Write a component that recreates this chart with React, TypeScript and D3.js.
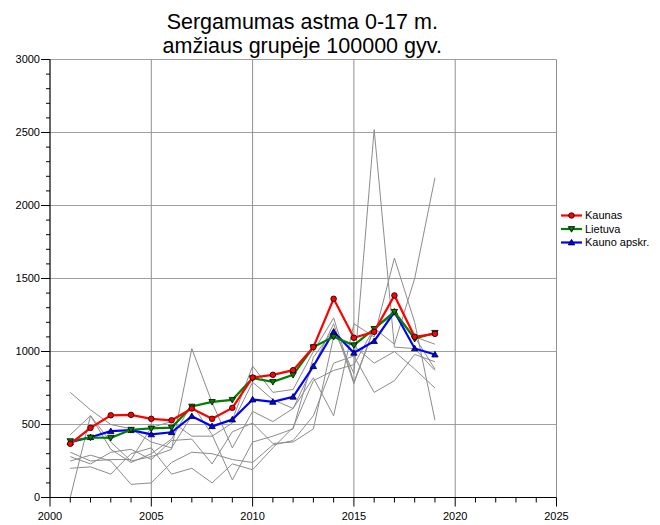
import React from "react";
import * as d3 from "d3";

const years = d3.range(2001, 2020);
const kaunas = [368, 477, 563, 566, 539, 529, 610, 539, 614, 822, 840, 872, 1030, 1361, 1094, 1135, 1384, 1101, 1121];
const lietuva = [386, 411, 409, 464, 473, 479, 623, 655, 669, 817, 792, 840, 1030, 1101, 1043, 1155, 1272, 1087, 1128];
const kaunoApskr = [379, 413, 454, 461, 432, 447, 557, 488, 534, 671, 655, 690, 899, 1135, 991, 1071, 1272, 1021, 979];

const gray1 = [720, 600, 500, 470, 380, 340, 560, 480, 530, 900, 720, 740, 1000, 1230, 790, 1160, 1280, 1100, 1050];
const gray2 = [0, 560, 380, 250, 280, 330, 1020, 650, 340, 590, 520, 610, 820, 560, 1190, 1100, 1640, 1200, 530];
const gray3 = [430, 560, 330, 240, 300, 400, 640, 430, 120, 380, 420, 470, 960, 1150, 850, 2520, 1030, 1020, 870];
const gray4 = [280, 230, 310, 330, 260, 390, 400, 230, 450, 510, 370, 380, 470, 1100, 1040, 920, 1000, 880, 750];
const gray5 = [250, 290, 250, 90, 100, 240, 310, 300, 260, 240, 360, 390, 560, 920, 970, 720, 800, 980, 930];
const gray6 = [200, 210, 160, 300, 340, 160, 200, 100, 230, 190, 340, 480, 800, 870, 910, 1160, 1050, 1500, 2190];
const gray7 = [310, 250, 260, 260, 480, 520, 420, 420, 510, 790, 670, 610, 900, 1190, 780, 1160, 1250, 1100, 880];
const grays = [gray1, gray2, gray3, gray4, gray5, gray6, gray7];

const xTicks = [2000, 2005, 2010, 2015, 2020, 2025];
const yTicks = [0, 500, 1000, 1500, 2000, 2500, 3000];
const titleLines = ["Sergamumas astma 0-17 m.", "amžiaus grupėje 100000 gyv."];
const seriesNames = ["Kaunas", "Lietuva", "Kauno apskr."];

const W = 660, H = 525;
const X0 = 50, X1 = 556.5;
const Y0 = 497.5, Y1 = 59.5;

export default function App() {
  const x = d3.scaleLinear().domain([2000, 2025]).range([X0, X1]);
  const y = d3.scaleLinear().domain([0, 3000]).range([Y0, Y1]);
  const line = (vals: number[]) =>
    d3.line<number>().x((_, i) => x(years[i])).y((v) => y(v))(vals) || "";

  const colors = ["#ff0000", "#008000", "#0000ff"];
  const data = [kaunas, lietuva, kaunoApskr];
  const font = "'Liberation Sans', Arial, sans-serif";

  const marker = (k: number, cx: number, cy: number, key: string) => {
    if (k === 0)
      return <circle key={key} cx={cx} cy={cy} r={2.8} fill={colors[0]} stroke="#000" strokeWidth={0.8} />;
    const s = 3.2;
    const pts = k === 1
      ? [[cx - s, cy - s * 0.75], [cx + s, cy - s * 0.75], [cx, cy + s]]
      : [[cx - s, cy + s * 0.75], [cx + s, cy + s * 0.75], [cx, cy - s]];
    return <polygon key={key} points={pts.map((p) => p.join(",")).join(" ")} fill={colors[k]} stroke="#000" strokeWidth={0.8} />;
  };

  const minorY = d3.range(0, 3001, 100);
  const minorX = d3.range(2000, 2026, 1);

  return (
    <svg width={W} height={H} style={{ position: "absolute", left: 0, top: 0, display: "block" }} fontFamily={font}>
      <rect x={0} y={0} width={W} height={H} fill="#fff" />
      {yTicks.filter((t) => t > 0).map((t) => (
        <line key={"gy" + t} x1={X0} x2={X1} y1={y(t)} y2={y(t)} stroke="#a0a0a0" strokeWidth={1} />
      ))}
      {xTicks.filter((t) => t > 2000).map((t) => (
        <line key={"gx" + t} x1={x(t)} x2={x(t)} y1={Y0} y2={Y1} stroke="#909090" strokeWidth={1} />
      ))}
      {grays.map((g, i) => (
        <path key={"g" + i} d={line(g)} fill="none" stroke="#8c8c8c" strokeWidth={1} />
      ))}
      {[2, 1, 0].map((k) => (
        <g key={"s" + k}>
          <path d={line(data[k])} fill="none" stroke={colors[k]} strokeWidth={2.2} />
          {data[k].map((v, i) => marker(k, x(years[i]), y(v), "m" + k + "-" + i))}
        </g>
      ))}
      <line x1={X0} x2={X0} y1={Y1} y2={Y0} stroke="#000" strokeWidth={1.2} />
      <line x1={X0} x2={X1} y1={Y0} y2={Y0} stroke="#000" strokeWidth={1.2} />
      {minorY.map((t) => (
        <line key={"ty" + t} x1={t % 500 === 0 ? X0 - 9 : X0 - 4} x2={X0} y1={y(t)} y2={y(t)} stroke="#000" strokeWidth={1} />
      ))}
      {minorX.map((t) => (
        <line key={"tx" + t} x1={x(t)} x2={x(t)} y1={Y0} y2={t % 5 === 0 ? Y0 + 9 : Y0 + 5} stroke="#000" strokeWidth={1} />
      ))}
      {yTicks.map((t) => (
        <text key={"ly" + t} x={X0 - 10} y={y(t)} dy="0.35em" textAnchor="end" fontSize={11}>{t}</text>
      ))}
      {xTicks.map((t) => (
        <text key={"lx" + t} x={x(t)} y={Y0 + 22} textAnchor="middle" fontSize={11}>{t}</text>
      ))}
      {titleLines.map((s, i) => (
        <text key={"t" + i} x={(X0 + X1) / 2 - 1} y={29 + i * 24} textAnchor="middle" fontSize={21.5}>{s}</text>
      ))}
      {seriesNames.map((n, k) => {
        const ly = 215.5 + k * 13.5;
        return (
          <g key={"lg" + k}>
            <line x1={561} x2={582} y1={ly} y2={ly} stroke={colors[k]} strokeWidth={2.2} />
            {marker(k, 571.5, ly, "lm" + k)}
            <text x={585} y={ly} dy="0.35em" fontSize={11}>{n}</text>
          </g>
        );
      })}
    </svg>
  );
}
